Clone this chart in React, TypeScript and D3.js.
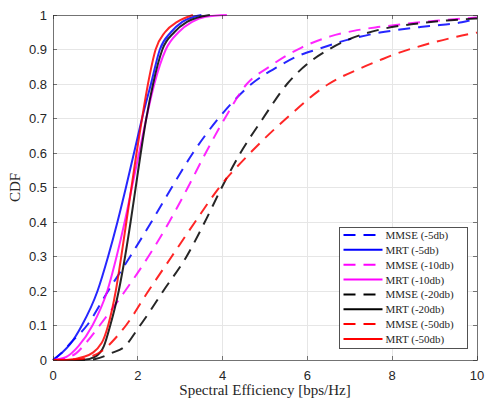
import React from 'react';
import * as d3 from 'd3';

// ---- data ----
const xTicks = [0, 2, 4, 6, 8, 10];
const yTicks = [0, 0.1, 0.2, 0.3, 0.4, 0.5, 0.6, 0.7, 0.8, 0.9, 1];
const yTickLabels = ['0', '0.1', '0.2', '0.3', '0.4', '0.5', '0.6', '0.7', '0.8', '0.9', '1'];

const mmse5X = [0, 0.2, 0.42, 0.8, 1.3, 1.82, 2.32, 2.8, 3.3, 3.9, 4.68, 5.3, 5.83, 6.3, 6.77, 7.24, 7.71, 8.19, 8.66, 9.13, 9.64, 10];
const mmse5Y = [0, 0.02, 0.05, 0.1, 0.2, 0.3, 0.4, 0.5, 0.6, 0.7, 0.8, 0.85, 0.884, 0.903, 0.922, 0.937, 0.949, 0.958, 0.965, 0.971, 0.979, 0.99];

const mrt5X = [0, 0.2, 0.4, 0.68, 1.05, 1.3, 1.52, 1.72, 1.91, 2.1, 2.31, 2.52, 2.78, 3.05, 3.5];
const mrt5Y = [0, 0.02, 0.045, 0.1, 0.2, 0.3, 0.4, 0.5, 0.6, 0.7, 0.8, 0.9, 0.95, 0.98, 1];

const mmse10X = [0, 0.3, 0.55, 0.78, 1.1, 1.7, 2.25, 2.74, 3.18, 3.6, 4.05, 4.57, 5.1, 5.85, 6.54, 7.09, 7.6, 8.03, 8.66, 9.2, 10];
const mmse10Y = [0, 0.005, 0.02, 0.05, 0.1, 0.2, 0.3, 0.4, 0.5, 0.6, 0.7, 0.8, 0.85, 0.905, 0.938, 0.954, 0.964, 0.97, 0.979, 0.985, 0.993];

const mrt10X = [0, 0.3, 0.6, 0.93, 1.28, 1.5, 1.69, 1.86, 2.03, 2.2, 2.39, 2.66, 2.96, 3.28, 3.6, 4.1];
const mrt10Y = [0, 0.008, 0.04, 0.1, 0.2, 0.3, 0.4, 0.5, 0.6, 0.7, 0.8, 0.9, 0.95, 0.98, 0.995, 1];

const mmse20X = [0, 0.8, 1.0, 1.38, 1.7, 1.98, 2.28, 2.6, 3.15, 3.58, 3.98, 4.42, 4.95, 5.52, 6.1, 6.5, 6.93, 7.36, 7.79, 8.26, 8.73, 9.29, 10];
const mmse20Y = [0, 0, 0.003, 0.02, 0.04, 0.087, 0.14, 0.2, 0.3, 0.4, 0.5, 0.6, 0.7, 0.8, 0.868, 0.9, 0.927, 0.946, 0.96, 0.97, 0.977, 0.984, 0.99];

const mrt20X = [0, 0.7, 1.0, 1.2, 1.35, 1.55, 1.7, 1.83, 1.95, 2.07, 2.2, 2.36, 2.58, 2.86, 3.16, 3.7];
const mrt20Y = [0, 0, 0.01, 0.04, 0.1, 0.2, 0.3, 0.4, 0.5, 0.6, 0.7, 0.8, 0.9, 0.95, 0.98, 1];

const mmse50X = [0, 0.6, 0.9, 1.2, 1.47, 1.72, 2.25, 2.8, 3.35, 3.92, 4.65, 5.5, 6.5, 7.24, 7.71, 8.1, 8.58, 9.05, 9.52, 10];
const mmse50Y = [0, 0.002, 0.01, 0.03, 0.063, 0.1, 0.2, 0.3, 0.4, 0.5, 0.6, 0.7, 0.8, 0.845, 0.869, 0.888, 0.907, 0.923, 0.937, 0.949];

const mrt50X = [0, 0.3, 0.75, 1.15, 1.3, 1.48, 1.61, 1.73, 1.85, 1.97, 2.1, 2.24, 2.42, 2.64, 2.93, 3.3];
const mrt50Y = [0, 0, 0.01, 0.05, 0.1, 0.2, 0.3, 0.4, 0.5, 0.6, 0.7, 0.8, 0.9, 0.95, 0.98, 1];

const seriesNames = ['MMSE (-5db)', 'MRT (-5db)', 'MMSE (-10db)', 'MRT (-10db)', 'MMSE (-20db)', 'MRT (-20db)', 'MMSE (-50db)', 'MRT (-50db)'];
const seriesColors = ['#0000ff', '#0000ff', '#ff00ff', '#ff00ff', '#000000', '#000000', '#ff0000', '#ff0000'];
const seriesDashed = [true, false, true, false, true, false, true, false];
const seriesX = [mmse5X, mrt5X, mmse10X, mrt10X, mmse20X, mrt20X, mmse50X, mrt50X];
const seriesY = [mmse5Y, mrt5Y, mmse10Y, mrt10Y, mmse20Y, mrt20Y, mmse50Y, mrt50Y];

const W = 485;
const H = 403;
const X0 = 53, X1 = 477, Y0 = 360, Y1 = 15;
const DASH = '12,8';

export default function App() {
  const x = d3.scaleLinear().domain([0, 10]).range([X0, X1]);
  const y = d3.scaleLinear().domain([0, 1]).range([Y0, Y1]);
  const line = d3.line<[number, number]>()
    .x(d => x(d[0]))
    .y(d => y(d[1]))
    .curve(d3.curveMonotoneX);

  const axisColor = '#262626';
  const gridColor = '#e6e6e6';
  const sans = "'Liberation Sans', Arial, sans-serif";
  const serif = "'Liberation Serif', 'Times New Roman', serif";

  const legX = 339.5, legY = 227.5, legW = 128, legH = 121;
  const rowH = 14.85;

  return (
    <svg width={W} height={H} style={{ position: 'absolute', left: 0, top: 0, background: '#fff' }}>
      <rect x={0} y={0} width={W} height={H} fill="#fff" />
      {/* grid */}
      <g shapeRendering="crispEdges">
        {xTicks.map(t => (
          <line key={'gx' + t} x1={x(t)} x2={x(t)} y1={Y1} y2={Y0} stroke={gridColor} strokeWidth={1} />
        ))}
        {yTicks.map(t => (
          <line key={'gy' + t} x1={X0} x2={X1} y1={y(t)} y2={y(t)} stroke={gridColor} strokeWidth={1} />
        ))}
      </g>
      {/* series */}
      <g>
        {seriesX.map((xs, i) => {
          const pts: [number, number][] = xs.map((v, j) => [v, seriesY[i][j]]);
          return (
            <path key={'s' + i} d={line(pts) || ''} fill="none" stroke={seriesColors[i]}
              strokeWidth={2} strokeDasharray={seriesDashed[i] ? DASH : undefined} strokeOpacity={0.85} />
          );
        })}
      </g>
      {/* axes box and ticks */}
      <g shapeRendering="crispEdges" stroke={axisColor} strokeOpacity={0.6}>
        <rect x={X0} y={Y1} width={X1 - X0} height={Y0 - Y1} fill="none" strokeWidth={1} />
        {xTicks.map(t => (
          <g key={'tx' + t}>
            <line x1={x(t)} x2={x(t)} y1={Y0} y2={Y0 - 4} />
            <line x1={x(t)} x2={x(t)} y1={Y1} y2={Y1 + 4} />
          </g>
        ))}
        {yTicks.map(t => (
          <g key={'ty' + t}>
            <line x1={X0} x2={X0 + 4} y1={y(t)} y2={y(t)} />
            <line x1={X1} x2={X1 - 4} y1={y(t)} y2={y(t)} />
          </g>
        ))}
      </g>
      {/* tick labels */}
      <g fill={axisColor} fontFamily={sans} fontSize={13}>
        {xTicks.map(t => (
          <text key={'lx' + t} x={x(t)} y={Y0 + 20} textAnchor="middle">{String(t)}</text>
        ))}
        {yTicks.map((t, i) => (
          <text key={'ly' + t} x={X0 - 6} y={y(t) + 4.5} textAnchor="end">{yTickLabels[i]}</text>
        ))}
      </g>
      {/* axis labels */}
      <text x={(X0 + X1) / 2} y={395} textAnchor="middle" fontFamily={serif} fontSize={15} fill={axisColor}>
        Spectral Efficiency [bps/Hz]
      </text>
      <text transform={`translate(20, ${(Y0 + Y1) / 2}) rotate(-90)`} textAnchor="middle" fontFamily={serif} fontSize={15} fill={axisColor}>
        CDF
      </text>
      {/* legend */}
      <g>
        <rect x={legX} y={legY} width={legW} height={legH} fill="#fff" stroke={axisColor} strokeOpacity={0.8} strokeWidth={1} shapeRendering="crispEdges" />
        {seriesNames.map((name, i) => {
          const cy = legY + 7.5 + i * rowH;
          return (
            <g key={'lg' + i}>
              <line x1={legX + 4} x2={legX + 43} y1={cy} y2={cy} stroke={seriesColors[i]} strokeWidth={2}
                strokeDasharray={seriesDashed[i] ? DASH : undefined} />
              <text x={legX + 46} y={cy + 4} fontFamily={serif} fontSize={11} fill={axisColor}>{name}</text>
            </g>
          );
        })}
      </g>
    </svg>
  );
}
